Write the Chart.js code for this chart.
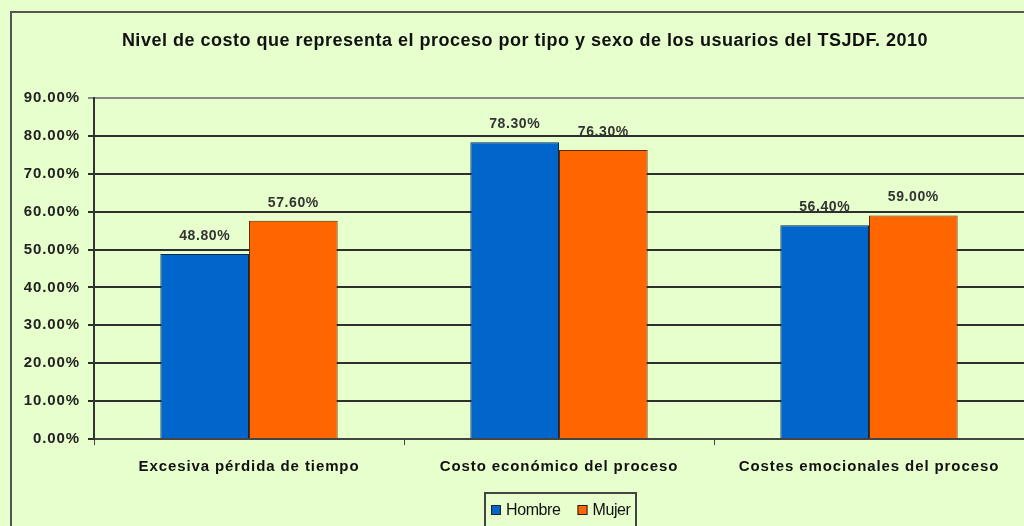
<!DOCTYPE html>
<html>
<head>
<meta charset="utf-8">
<script src="https://cdn.jsdelivr.net/npm/chart.js@4.4.0/dist/chart.umd.min.js"></script>
<style>
  html, body { margin: 0; padding: 0; background: #e6ffcc; overflow: hidden; }
  canvas { display: block; }
</style>
</head>
<body>
<canvas id="chart" width="1024" height="526"></canvas>
<script>
const categorias = ["Excesiva pérdida de tiempo", "Costo económico del proceso", "Costes emocionales del proceso"]
const hombre = [48.8, 78.3, 56.4]
const mujer = [57.6, 76.3, 59.0]
const titulo = "Nivel de costo que representa el proceso por tipo y sexo de los usuarios del TSJDF. 2010"

const FONT = "'Liberation Sans', Arial, sans-serif"
const AXIS_SPACING = "0.9px"

// marco exterior, título, etiquetas y leyenda
const extras = {
  id: "extras",
  beforeLayout(chart) { chart.ctx.letterSpacing = AXIS_SPACING },
  beforeDraw(chart) {
    const ctx = chart.ctx
    ctx.letterSpacing = AXIS_SPACING
    ctx.save()
    ctx.fillStyle = "#555"
    ctx.fillRect(10, 11, 2, 515)
    ctx.fillRect(10, 11, 1014, 2)
    ctx.fillStyle = "#111"
    ctx.letterSpacing = "0.5px"
    ctx.font = "bold 18px " + FONT
    ctx.textAlign = "center"
    ctx.textBaseline = "middle"
    ctx.fillText(titulo, 525, 41)
    ctx.restore()
  },
  afterDatasetsDraw(chart) {
    const ctx = chart.ctx
    ctx.save()
    ctx.letterSpacing = "0.6px"
    ctx.font = "bold 14px " + FONT
    ctx.fillStyle = "#333"
    ctx.textAlign = "center"
    ctx.textBaseline = "middle"
    chart.data.datasets.forEach((ds, i) => {
      chart.getDatasetMeta(i).data.forEach((bar, j) => {
        ctx.fillText(ds.data[j].toFixed(2) + "%", bar.x, bar.y - 18)
      })
    })
    ctx.restore()
  },
  afterDraw(chart) {
    const ctx = chart.ctx
    ctx.save()
    ctx.letterSpacing = "-0.4px"
    ctx.font = "16px " + FONT
    ctx.textBaseline = "middle"
    const left = 485, top = 493
    ctx.fillStyle = "#e6ffcc"
    ctx.fillRect(left, top, 151, 40)
    ctx.strokeStyle = "#444"
    ctx.lineWidth = 2
    ctx.strokeRect(left, top, 151, 40)
    let x = left + 6
    chart.data.datasets.forEach((ds) => {
      ctx.fillStyle = ds.backgroundColor
      ctx.fillRect(x, 505, 10, 10)
      ctx.strokeStyle = "#222"
      ctx.lineWidth = 1
      ctx.strokeRect(x + 0.5, 505.5, 9, 9)
      ctx.fillStyle = "#111"
      ctx.fillText(ds.label, x + 15, 511)
      x += 15 + ctx.measureText(ds.label).width + 17
    })
    ctx.restore()
  }
}

new Chart(document.querySelector("#chart"), {
  type: "bar",
  data: {
    labels: categorias,
    datasets: [
      { label: "Hombre", data: hombre, backgroundColor: "#0066cc", borderColor: "#0a2a4a", borderWidth: 1 },
      { label: "Mujer", data: mujer, backgroundColor: "#ff6600", borderColor: "#5a2a00", borderWidth: 1 }
    ]
  },
  options: {
    responsive: false,
    animation: false,
    categoryPercentage: 0.572,
    barPercentage: 1,
    layout: { padding: { top: 98, left: 0, right: 0, bottom: 0 } },
    plugins: { legend: { display: false }, title: { display: false }, tooltip: { enabled: false } },
    scales: {
      x: {
        afterFit(scale) { scale.height = 87 },
        border: { color: "#444", width: 2 },
        grid: { offset: true, drawOnChartArea: false, drawTicks: true, tickLength: 6, color: "#444", lineWidth: 1 },
        ticks: { color: "#111", padding: 13, maxRotation: 0, font: { family: FONT, size: 15, weight: "bold" } }
      },
      y: {
        min: 0,
        max: 90,
        afterFit(scale) { scale.width = 94 },
        border: { color: "#333", width: 2 },
        grid: {
          color: (c) => c.tick && c.tick.value === 90 ? "#8a8a8a" : "#2e2e2e",
          lineWidth: 2,
          tickLength: 6
        },
        ticks: {
          stepSize: 10,
          padding: 8,
          color: "#222",
          font: { family: FONT, size: 15, weight: "bold" },
          callback: (v) => v.toFixed(2) + "%"
        }
      }
    }
  },
  plugins: [extras]
})
</script>
</body>
</html>
